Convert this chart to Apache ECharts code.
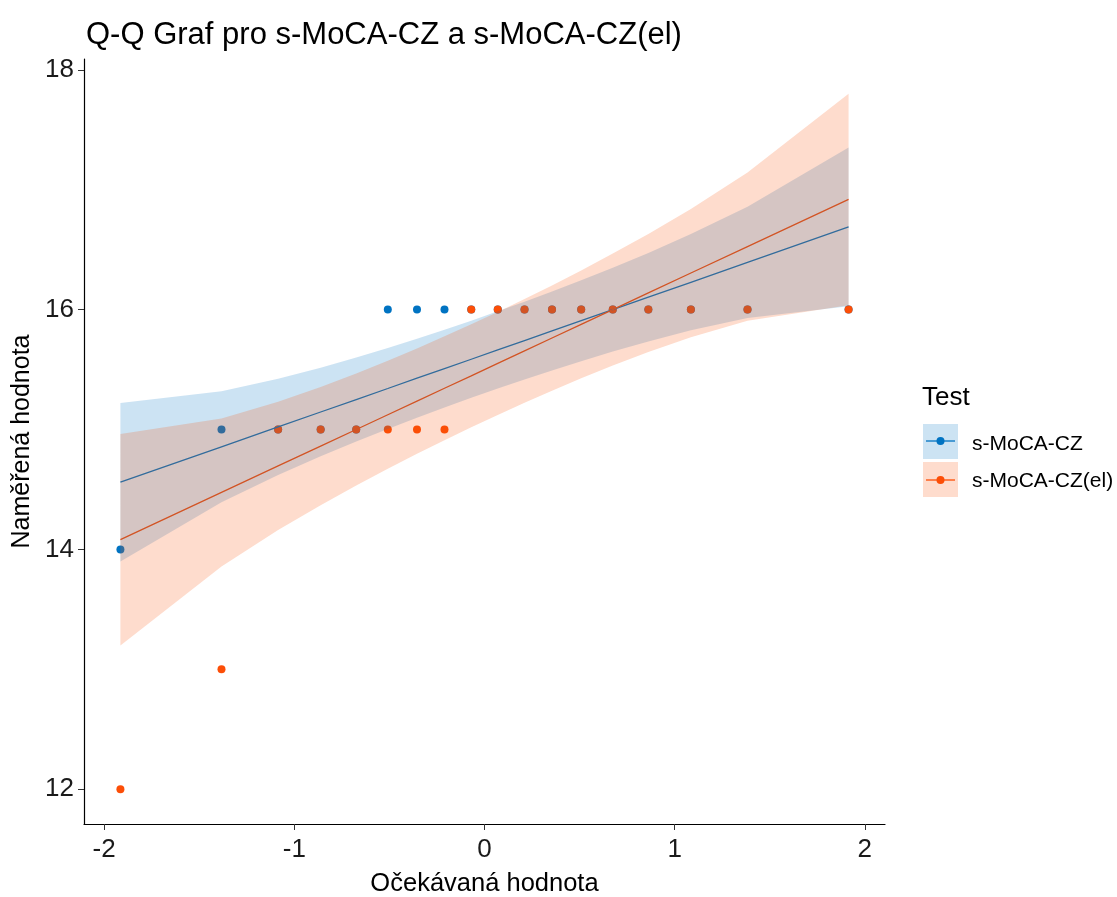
<!DOCTYPE html>
<html>
<head>
<meta charset="utf-8">
<script src="https://cdn.jsdelivr.net/npm/echarts@6/dist/echarts.min.js"></script>
<style>
html, body { margin: 0; padding: 0; background: #fff; }
#myChart { width: 1117px; height: 897px; }
</style>
</head>
<body>
<div id="myChart"></div>
<script>
// teoretické kvantily normálního rozdělení (n = 18)
const quantiles = [-1.9145, -1.3830, -1.0853, -0.8616, -0.6745, -0.5085, -0.3550, -0.2104, -0.0697,
  0.0697, 0.2104, 0.3550, 0.5085, 0.6745, 0.8616, 1.0853, 1.3830, 1.9145]
// seřazené naměřené hodnoty
const mocaCz = [14, 15, 15, 15, 15, 16, 16, 16, 16, 16, 16, 16, 16, 16, 16, 16, 16, 16]
const mocaCzEl = [12, 13, 15, 15, 15, 15, 15, 15, 16, 16, 16, 16, 16, 16, 16, 16, 16, 16]
// Q-Q přímky
const mocaCzLine = [14.561, 14.856, 15.022, 15.146, 15.250, 15.342, 15.428, 15.508, 15.586,
  15.664, 15.742, 15.822, 15.908, 16.000, 16.104, 16.228, 16.394, 16.689]
const mocaCzElLine = [14.081, 14.475, 14.696, 14.861, 15.000, 15.123, 15.237, 15.344, 15.448,
  15.552, 15.656, 15.763, 15.877, 16.000, 16.139, 16.305, 16.525, 16.919]
// pásy spolehlivosti
const mocaCzLow = [13.899, 14.393, 14.620, 14.777, 14.900, 15.005, 15.098, 15.184, 15.264,
  15.342, 15.418, 15.493, 15.570, 15.650, 15.735, 15.827, 15.931, 16.028]
const mocaCzHigh = [15.222, 15.319, 15.423, 15.515, 15.600, 15.680, 15.757, 15.833, 15.908,
  15.986, 16.066, 16.152, 16.245, 16.350, 16.473, 16.630, 16.857, 17.351]
const mocaCzElLow = [13.199, 13.857, 14.161, 14.369, 14.533, 14.673, 14.798, 14.911, 15.019,
  15.122, 15.223, 15.324, 15.427, 15.533, 15.646, 15.770, 15.908, 16.037]
const mocaCzElHigh = [14.963, 15.092, 15.231, 15.354, 15.467, 15.573, 15.676, 15.777, 15.878,
  15.981, 16.089, 16.202, 16.327, 16.467, 16.631, 16.840, 17.143, 17.801]
const xTicks = [-2, -1, 0, 1, 2]
const yTicks = [12, 14, 16, 18]

const blue = '#0073C2'
const orange = '#FC4E07'
const blueFill = 'rgba(0,115,194,0.2)'
const orangeFill = 'rgba(252,78,7,0.2)'
const font = '"Liberation Sans", Arial, sans-serif'

function pairs (xs, ys) {
  return xs.map((x, i) => [x, ys[i]])
}

// pás jako polygon přes souřadnice os
function band (name, lo, hi, fill, z) {
  return {
    name: name,
    type: 'custom',
    z: z,
    silent: true,
    data: quantiles.map((q, i) => [q, lo[i], hi[i]]),
    encode: { x: 0, y: [1, 2] },
    renderItem: function (params, api) {
      if (params.dataIndex !== 0) return null
      let pts = []
      for (let i = 0; i < quantiles.length; i++) pts.push(api.coord([quantiles[i], hi[i]]))
      for (let i = quantiles.length - 1; i >= 0; i--) pts.push(api.coord([quantiles[i], lo[i]]))
      return { type: 'polygon', shape: { points: pts }, style: { fill: fill } }
    }
  }
}

let myChart = echarts.init(document.getElementById('myChart'))
myChart.setOption({
  backgroundColor: '#fff',
  animation: false,
  title: {
    text: 'Q-Q Graf pro s-MoCA-CZ a s-MoCA-CZ(el)',
    left: 81,
    top: 15,
    textStyle: { fontFamily: font, fontSize: 31, fontWeight: 'normal', color: '#000' }
  },
  grid: { left: 84, right: 232, top: 59, bottom: 73, outerBoundsMode: 'none', containLabel: false },
  xAxis: {
    type: 'value',
    min: -2.106,
    max: 2.106,
    name: 'Očekávaná hodnota',
    nameLocation: 'middle',
    nameGap: 47,
    nameTextStyle: { fontFamily: font, fontSize: 25.5, color: '#000' },
    axisLine: { onZero: false, lineStyle: { color: '#000', width: 1.2 } },
    axisTick: { length: 6, customValues: xTicks, lineStyle: { color: '#333' } },
    axisLabel: { customValues: xTicks, fontFamily: font, fontSize: 26, color: '#1a1a1a', margin: 13 },
    splitLine: { show: false }
  },
  yAxis: {
    type: 'value',
    min: 11.71,
    max: 18.09,
    name: 'Naměřená hodnota',
    nameLocation: 'middle',
    nameGap: 47,
    nameTextStyle: { fontFamily: font, fontSize: 25, color: '#000' },
    axisLine: { onZero: false, lineStyle: { color: '#000', width: 1.2 } },
    axisTick: { length: 6, customValues: yTicks, lineStyle: { color: '#333' } },
    axisLabel: { customValues: yTicks, fontFamily: font, fontSize: 26, color: '#1a1a1a', margin: 10 },
    splitLine: { show: false }
  },
  series: [
    {
      name: 's-MoCA-CZ',
      type: 'scatter',
      z: 2,
      symbolSize: 8,
      itemStyle: { color: blue, opacity: 1 },
      data: pairs(quantiles, mocaCz)
    },
    {
      name: 's-MoCA-CZ(el)',
      type: 'scatter',
      z: 2,
      symbolSize: 8,
      itemStyle: { color: orange, opacity: 1 },
      data: pairs(quantiles, mocaCzEl)
    },
    {
      type: 'line',
      z: 3,
      symbol: 'none',
      lineStyle: { color: blue, width: 1.3 },
      data: pairs(quantiles, mocaCzLine)
    },
    {
      type: 'line',
      z: 3,
      symbol: 'none',
      lineStyle: { color: orange, width: 1.3 },
      data: pairs(quantiles, mocaCzElLine)
    },
    band('pás s-MoCA-CZ', mocaCzLow, mocaCzHigh, blueFill, 4),
    band('pás s-MoCA-CZ(el)', mocaCzElLow, mocaCzElHigh, orangeFill, 5)
  ],
  // legenda jako v ggplot (klíč s výplní pásu)
  graphic: [
    { type: 'text', left: 922, top: 385, style: { text: 'Test', font: '26px ' + font, fill: '#000' } },
    { type: 'rect', shape: { x: 923, y: 424, width: 35, height: 35 }, style: { fill: blueFill } },
    { type: 'line', shape: { x1: 926, y1: 441, x2: 955, y2: 441 }, style: { stroke: blue, lineWidth: 1.3 } },
    { type: 'circle', shape: { cx: 940.5, cy: 441, r: 4 }, style: { fill: blue } },
    { type: 'text', left: 972, top: 434, style: { text: 's-MoCA-CZ', font: '21px ' + font, fill: '#000' } },
    { type: 'rect', shape: { x: 923, y: 462, width: 35, height: 35 }, style: { fill: orangeFill } },
    { type: 'line', shape: { x1: 926, y1: 480, x2: 955, y2: 480 }, style: { stroke: orange, lineWidth: 1.3 } },
    { type: 'circle', shape: { cx: 940.5, cy: 480, r: 4 }, style: { fill: orange } },
    { type: 'text', left: 972, top: 471, style: { text: 's-MoCA-CZ(el)', font: '21px ' + font, fill: '#000' } }
  ]
})
</script>
</body>
</html>
